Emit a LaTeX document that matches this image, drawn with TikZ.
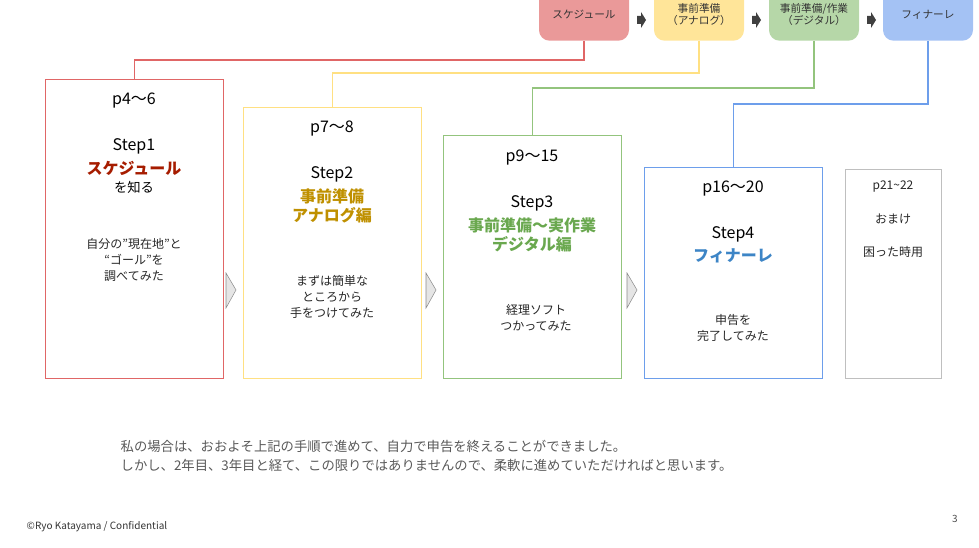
\documentclass[tikz,border=0pt]{standalone}
\usepackage{fontspec}
\setmainfont{Noto Sans CJK JP}
\usetikzlibrary{positioning}
\definecolor{redf}{HTML}{EA9999}
\definecolor{redl}{HTML}{E06666}
\definecolor{redt}{HTML}{A61C00}
\definecolor{yelf}{HTML}{FFE599}
\definecolor{yell}{HTML}{FFE082}
\definecolor{yelt}{HTML}{BF9000}
\definecolor{grnf}{HTML}{B6D7A8}
\definecolor{grnl}{HTML}{93C47D}
\definecolor{grnt}{HTML}{6AA84F}
\definecolor{bluf}{HTML}{A4C2F4}
\definecolor{blul}{HTML}{6D9EEB}
\definecolor{blut}{HTML}{3D85C6}

\begin{document}
\begin{tikzpicture}[x=0.75pt,y=-0.75pt,
      phase/.style = {rectangle, rounded corners=8pt, fill=#1, text=black!80,
                     minimum width=67.5pt, minimum height=39pt, anchor=south,
                     font=\fontsize{8}{9}\selectfont, align=center},
       step/.style = {rectangle, draw=#1, line width=0.8pt, anchor=north west},
       page/.style = {font=\fontsize{12}{14}\selectfont},
       body/.style = {font=\fontsize{9}{12}\selectfont, align=center, text=black!85},
       head/.style = {font=\fontsize{12}{14}\selectfont\bfseries, align=center, text=#1},
       tip/.style  = {fill=black!75, inner sep=0pt, minimum size=0pt},
       link/.style = {draw=#1, line width=1pt}
                        ]
\path[use as bounding box] (0,0) rectangle (979,548);
% top row
\node (sched) [phase=redf] at (584,41) {スケジュール};
\node (anal)  [phase=yelf] at (699,41) {事前準備\\（アナログ）};
\node (digi)  [phase=grnf] at (814,41) {事前準備/作業\\（デジタル）};
\node (fin)   [phase=bluf] at (928,41) {フィナーレ};
\foreach \x in {641,756,871}
  \fill[black!75] (\x-4,16) rectangle (\x,24) (\x,12) -- (\x+5,20) -- (\x,28) -- cycle;
% step boxes
\node (box1) [step=redl,   minimum width=133.5pt, minimum height=224pt] at (45,79) {};
\node (box2) [step=yell,   minimum width=133.5pt, minimum height=203pt] at (243,107) {};
\node (box3) [step=grnl,   minimum width=133.5pt, minimum height=182pt] at (443,135) {};
\node (box4) [step=blul,   minimum width=133.5pt, minimum height=158pt] at (644,167) {};
\node (box5) [step=black!25, minimum width=72pt, minimum height=156.5pt] at (845,169) {};
% connectors
\draw[link=redl] (sched.south) -- ++(0,19) -| (box1.north);
\draw[link=yell] (anal.south)  -- ++(0,32) -| (box2.north);
\draw[link=grnl] (digi.south)  -- ++(0,47) -| (box3.north);
\draw[link=blul] (fin.south)   -- ++(0,63) -| (box4.north);
% chevrons
\foreach \x in {226,426,627}
  \draw[black!45, fill=black!10] (\x,273) -- (\x+10,290) -- (\x,308) -- cycle;
% box texts
\node (p1) [page] at (134,101) {p4〜6};
\node (s1) [page] at (134,146) {Step1};
\node (h1) [head=redt] at (134,168) {スケジュール};
\node (k1) [page, font=\fontsize{10}{12}\selectfont] at (134,187) {を知る};
\node (b1) [body] at (134,260) {自分の"現在地"と\\“ゴール”を\\調べてみた};
\node (p2) [page] at (332,129) {p7〜8};
\node (s2) [page] at (332,174) {Step2};
\node (h2) [head=yelt] at (332,206) {事前準備\\アナログ編};
\node (b2) [body] at (332,297) {まずは簡単な\\ところから\\手をつけてみた};
\node (p3) [page] at (532,158) {p9〜15};
\node (s3) [page] at (532,203) {Step3};
\node (h3) [head=grnt] at (532,235) {事前準備〜実作業\\デジタル編};
\node (b3) [body] at (536,318) {経理ソフト\\つかってみた};
\node (p4) [page] at (733,189) {p16〜20};
\node (s4) [page] at (733,234) {Step4};
\node (h4) [head=blut] at (733,256) {フィナーレ};
\node (b4) [body] at (733,328) {申告を\\完了してみた};
\node (p5) [body] at (893,187) {p21\textasciitilde 22};
\node (m5) [body] at (893,219) {おまけ};
\node (q5) [body] at (893,252) {困った時用};
% footer
\node (note) [font=\fontsize{10}{14}\selectfont, text=black!65, align=left, anchor=west]
  at (116,456) {私の場合は、おおよそ上記の手順で進めて、自力で申告を終えることができました。\\しかし、2年目、3年目と経て、この限りではありませんので、柔軟に進めていただければと思います。};
\node (copy) [font=\fontsize{7.5}{9}\selectfont, text=black!80, anchor=west]
  at (22,527) {©Ryo Katayama / Confidential};
\node (num) [font=\fontsize{7.5}{9}\selectfont, text=black!70] at (955,519) {3};
\end{tikzpicture}
\end{document}
